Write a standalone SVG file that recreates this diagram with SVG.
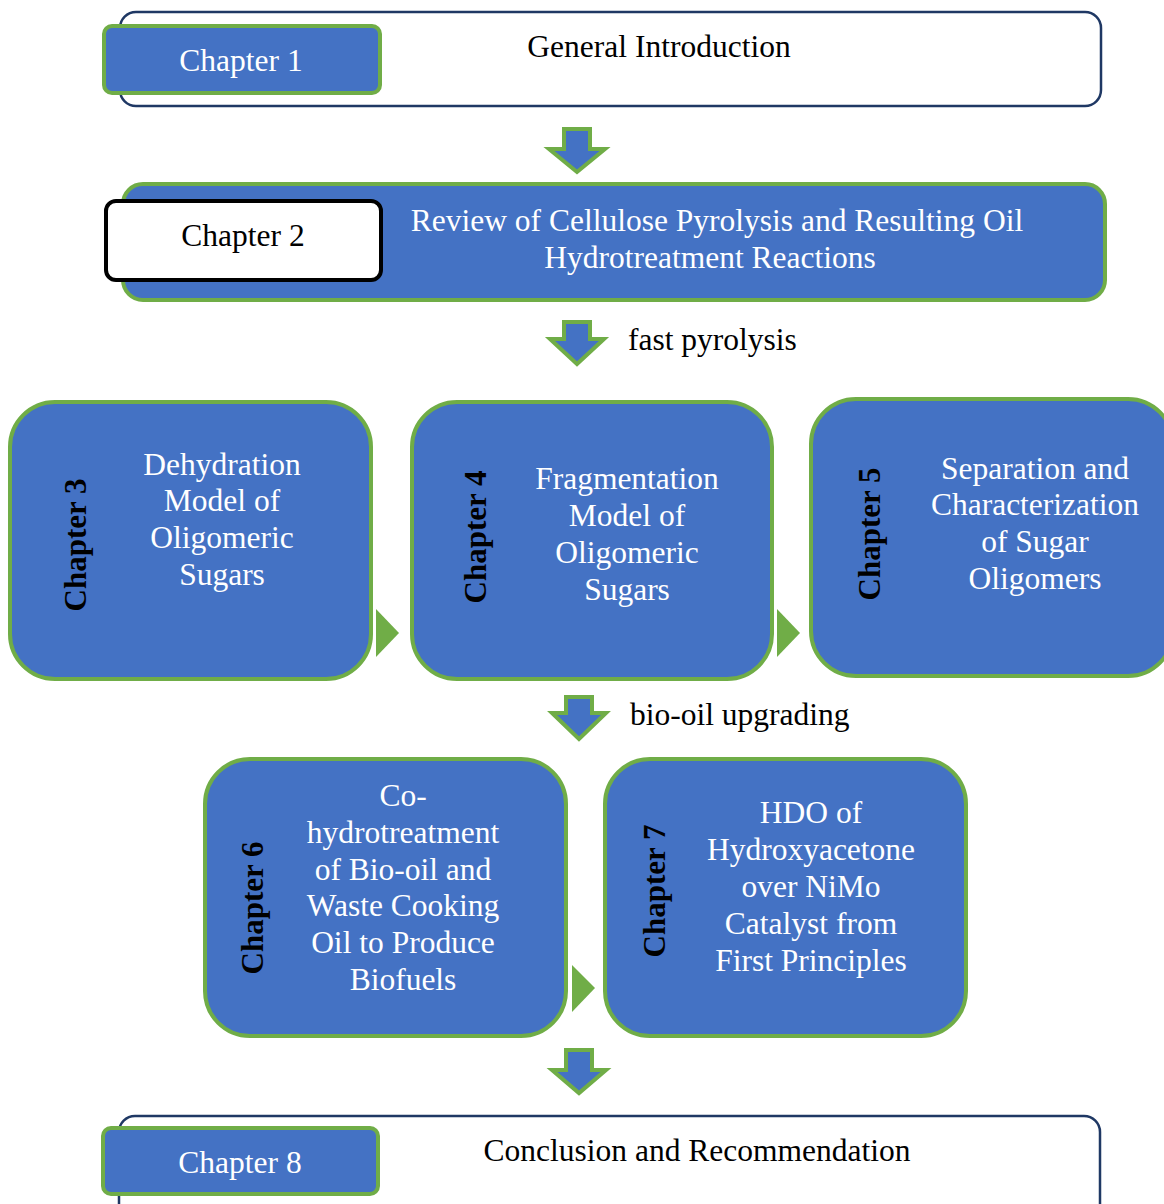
<svg xmlns="http://www.w3.org/2000/svg" width="1164" height="1204" viewBox="0 0 1164 1204">
<defs>
<style>
.t{font-family:"Liberation Serif","Times New Roman",serif;font-size:31.5px;}
.w{fill:#ffffff;}
.k{fill:#000000;}
.c{text-anchor:middle;}
.rl{font-family:"Liberation Serif","Times New Roman",serif;font-size:31px;font-weight:bold;fill:#000000;text-anchor:middle;}
.blue{fill:#4472c4;stroke:#70ad47;stroke-width:4;}
.outer{fill:#ffffff;stroke:#1f3864;stroke-width:2.5;}
.arrow{fill:#4472c4;stroke:#70ad47;stroke-width:4;stroke-linejoin:miter;}
.tri{fill:#70ad47;}
</style>
</defs>
<rect width="1164" height="1204" fill="#ffffff"/>

<g id="ch1">
<rect class="outer" x="120" y="12" width="981" height="94" rx="16"/>
<rect class="blue" x="104" y="26" width="276" height="67" rx="8"/>
<text class="t w c" x="241" y="71">Chapter 1</text>
<text class="t k c" x="659" y="57">General Introduction</text>
</g>

<g id="ch2">
<rect class="blue" x="123" y="184" width="982" height="116" rx="20"/>
<rect x="106" y="201" width="275" height="79" rx="10" fill="#ffffff" stroke="#000000" stroke-width="4"/>
<text class="t k c" x="243" y="246">Chapter 2</text>
<text class="t w c" x="717" y="231">Review of Cellulose Pyrolysis and Resulting Oil</text>
<text class="t w c" x="710" y="268">Hydrotreatment Reactions</text>
</g>

<g id="ch3">
<rect class="blue" x="10" y="402" width="361" height="277" rx="45"/>
<text class="rl" transform="translate(86,545) rotate(-90)">Chapter 3</text>
<text class="t w c" x="222" y="475">Dehydration</text>
<text class="t w c" x="222" y="511">Model of</text>
<text class="t w c" x="222" y="548">Oligomeric</text>
<text class="t w c" x="222" y="585">Sugars</text>
</g>

<g id="ch4">
<rect class="blue" x="412" y="402" width="360" height="277" rx="45"/>
<text class="rl" transform="translate(486,537) rotate(-90)">Chapter 4</text>
<text class="t w c" x="627" y="489">Fragmentation</text>
<text class="t w c" x="627" y="526">Model of</text>
<text class="t w c" x="627" y="563">Oligomeric</text>
<text class="t w c" x="627" y="600">Sugars</text>
</g>

<g id="ch5">
<rect class="blue" x="811" y="399" width="362" height="277" rx="45"/>
<text class="rl" transform="translate(880,534) rotate(-90)">Chapter 5</text>
<text class="t w c" x="1035" y="479">Separation and</text>
<text class="t w c" x="1035" y="515">Characterization</text>
<text class="t w c" x="1035" y="552">of Sugar</text>
<text class="t w c" x="1035" y="589">Oligomers</text>
</g>

<g id="ch6">
<rect class="blue" x="205" y="759" width="361" height="277" rx="45"/>
<text class="rl" transform="translate(263,908) rotate(-90)">Chapter 6</text>
<text class="t w c" x="403" y="806">Co-</text>
<text class="t w c" x="403" y="843">hydrotreatment</text>
<text class="t w c" x="403" y="880">of Bio-oil and</text>
<text class="t w c" x="403" y="916">Waste Cooking</text>
<text class="t w c" x="403" y="953">Oil to Produce</text>
<text class="t w c" x="403" y="990">Biofuels</text>
</g>

<g id="ch7">
<rect class="blue" x="605" y="759" width="361" height="277" rx="45"/>
<text class="rl" transform="translate(665,891) rotate(-90)">Chapter 7</text>
<text class="t w c" x="811" y="823">HDO of</text>
<text class="t w c" x="811" y="860">Hydroxyacetone</text>
<text class="t w c" x="811" y="897">over NiMo</text>
<text class="t w c" x="811" y="934">Catalyst from</text>
<text class="t w c" x="811" y="971">First Principles</text>
</g>

<g id="ch8">
<rect class="outer" x="119" y="1116" width="981" height="110" rx="16"/>
<rect class="blue" x="103" y="1128" width="275" height="66" rx="8"/>
<text class="t w c" x="240" y="1173">Chapter 8</text>
<text class="t k c" x="697" y="1161">Conclusion and Recommendation</text>
</g>

<g id="connectors">
<polygon class="arrow" points="564,129 590,129 590,149 605,149 577,172 549,149 564,149"/>
<polygon class="arrow" points="564,322 590,322 590,339 604,339 577,364 550,339 564,339"/>
<text class="t k" x="628" y="350">fast pyrolysis</text>
<polygon class="arrow" points="566,697 592,697 592,713 606,713 579,739 552,713 566,713"/>
<text class="t k" x="630" y="725">bio-oil upgrading</text>
<polygon class="arrow" points="566,1050 592,1050 592,1070 606,1070 579,1093 552,1070 566,1070"/>
<polygon class="tri" points="376,609 399,633 376,657"/>
<polygon class="tri" points="777,609 800,633 777,657"/>
<polygon class="tri" points="572,965 595,988 572,1012"/>
</g>
</svg>
